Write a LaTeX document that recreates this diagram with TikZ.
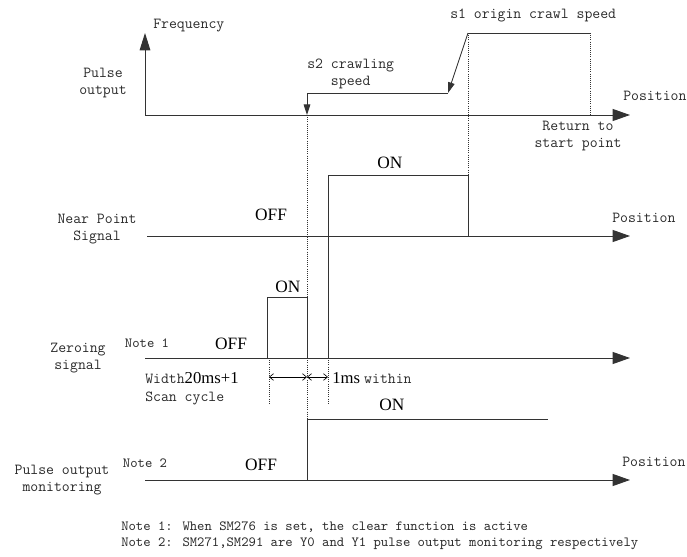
\documentclass[tikz,border=0pt]{standalone}
\usepackage{fontspec}
\setmainfont{Liberation Serif}
\usepackage{tikz}
\usetikzlibrary{arrows.meta}
\definecolor{wave-line}{HTML}{333333}
\definecolor{wave-text}{HTML}{2A2A2A}

\begin{document}
\begin{tikzpicture}[
		x=0.75pt, y=-0.75pt,
		axis/.style={
			draw=wave-line, line width=0.7pt,
			-{Triangle[length=13pt,width=9pt]}
		},
		sig/.style={
			draw=wave-line, line width=0.7pt
		},
		guide/.style={
			draw=wave-line, densely dotted, line width=0.6pt
		},
		dim/.style={
			draw=black, line width=0.5pt,
			{Straight Barb[length=3pt,width=5pt]}-{Straight Barb[length=3pt,width=5pt]}
		},
		lbl/.style={
			inner sep=0pt, align=center, text=wave-text,
			font=\fontsize{11.5}{12.75}\selectfont\ttfamily
		},
		state/.style={
			inner sep=0pt,
			font=\fontsize{13}{15}\selectfont
		},
		note/.style={
			inner sep=0pt, text=wave-text,
			font=\fontsize{10.5}{12}\selectfont\ttfamily
		}
		]
		
		\useasboundingbox (0,0) rectangle (687,557);
		
		\def\ya{115}
		\def\yb{236}
		\def\yc{358}
		\def\yd{480}
		
		% dotted guides
		\draw[guide] (307,\ya) -- (307,\yd);
		\draw[guide] (468,33) -- (468,175);
		\draw[guide] (590,33) -- (590,\ya);
		\draw[guide] (269,\yc) -- (269,403);
		\draw[guide] (328,\yc) -- (328,404);
		
		% pulse output
		\draw[axis] (145,\ya) -- (630,\ya);
		\draw[axis,-{Triangle[length=13pt,width=8pt]}] (145,\ya) -- (145,33);
		\draw[sig] (307,93) -- (448,93);
		\draw[sig,-{Triangle[length=8pt,width=5pt]}] (307,93) -- (307,\ya);
		\draw[sig,-{Triangle[length=8pt,width=5pt]}] (468,33) -- (448,93);
		\draw[sig] (468,33) -- (590,33);
		\node[lbl,anchor=west] (freq) at (153,26) {Frequency};
		\node[lbl] (pout) at (103,83) {Pulse\\output};
		\node[lbl,anchor=west,align=left] (s2) at (307,74) {s2 crawling\\\phantom{s2 }speed};
		\node[lbl,anchor=west] (s1) at (450,15) {s1 origin crawl speed};
		\node[lbl] (ret) at (578,136) {Return to\\start point};
		\node[lbl,anchor=west] (posa) at (623,96) {Position};
		
		% near point signal
		\draw[axis] (147,\yb) -- (630,\yb);
		\draw[sig] (328,\yc) -- (328,175) -- (468,175) -- (468,\yb);
		\node[state] (nearon) at (390,163) {ON};
		\node[state] (nearoff) at (271,215) {OFF};
		\node[lbl] (near) at (97,229) {Near Point\\Signal};
		\node[lbl,anchor=west] (posb) at (612,218) {Position};
		
		% zeroing signal
		\draw[axis] (145,\yc) -- (630,\yc);
		\draw[sig] (267,\yc) -- (267,297) -- (307,297) -- (307,\yc);
		\node[state] (zeroon) at (288,287) {ON};
		\node[state] (zerooff) at (231,344) {OFF};
		\node[note] (notea) at (147,343) {Note 1};
		\node[lbl] (zero) at (78,358) {Zeroing\\signal};
		\draw[dim] (269,377) -- (307,377);
		\draw[dim] (307,377) -- (328,377);
		\node[anchor=west,inner sep=0pt] (width) at (145,378)
		{\fontsize{11.5}{13}\selectfont\ttfamily\color{wave-text}Width\fontsize{12.5}{13}\rmfamily\color{black}20ms+1};
		\node[lbl,anchor=west] (scan) at (145,398) {Scan cycle};
		\node[anchor=west,inner sep=0pt] (within) at (332,378)
		{\fontsize{12.5}{13}\selectfont 1ms \fontsize{11.5}{13}\selectfont\ttfamily\color{wave-text}within};
		
		% pulse output monitoring
		\draw[axis] (145,\yd) -- (630,\yd);
		\draw[sig] (307,\yd) -- (307,419) -- (548,419);
		\node[state] (monon) at (392,405) {ON};
		\node[state] (monoff) at (261,465) {OFF};
		\node[note] (noteb) at (145,463) {Note 2};
		\node[lbl] (mon) at (62,480) {Pulse output\\monitoring};
		\node[lbl,anchor=west] (posd) at (622,462) {Position};
		
		% notes
		\node[note,anchor=west] (texta) at (121,527) {Note 1: When SM276 is set, the clear function is active};
		\node[note,anchor=west] (textb) at (121,544) {Note 2: SM271,SM291 are Y0 and Y1 pulse output monitoring respectively};
		
	\end{tikzpicture}
\end{document}
